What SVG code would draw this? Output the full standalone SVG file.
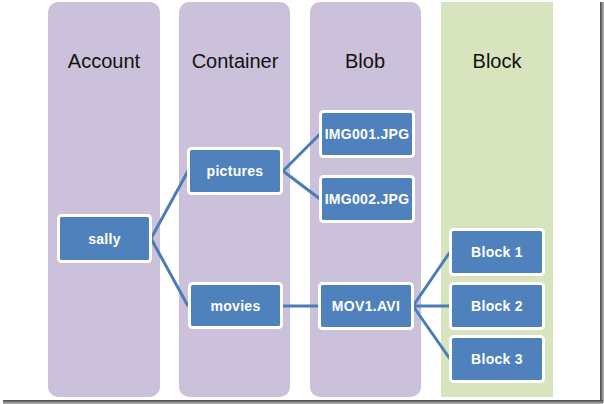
<svg xmlns="http://www.w3.org/2000/svg" width="604" height="404" viewBox="0 0 604 404">
<defs>
<style>
.col{fill:#CCC1DA}
.colg{fill:#D7E4BD}
.hdr{font-family:"Liberation Sans",Arial,sans-serif;font-size:20px;fill:#111;text-anchor:middle}
.node rect{fill:#4F81BD;stroke:#fff;stroke-width:3}
.node text{font-family:"Liberation Sans",Arial,sans-serif;font-size:14px;font-weight:bold;fill:#fff;text-anchor:middle;letter-spacing:0.3px}
.conn line{stroke:#4A7CB6;stroke-width:3;fill:none}
</style>
<linearGradient id="shR" x1="0" y1="0" x2="1" y2="0">
<stop offset="0" stop-color="#444"/><stop offset="1" stop-color="#bbb"/>
</linearGradient>
<linearGradient id="shB" x1="0" y1="0" x2="0" y2="1">
<stop offset="0" stop-color="#444"/><stop offset="1" stop-color="#bbb"/>
</linearGradient>
</defs>
<rect x="0" y="0" width="604" height="404" fill="#fff"/>
<rect x="600" y="2" width="4" height="401" fill="url(#shR)"/>
<rect x="3" y="400" width="600" height="4" fill="url(#shB)"/>

<g id="lanes">
<rect class="col" x="48" y="2" width="112" height="395" rx="10"/>
<rect class="col" x="179" y="2" width="111" height="395" rx="10"/>
<rect class="col" x="310" y="2" width="111" height="395" rx="10"/>
<rect class="colg" x="441" y="2" width="112" height="395"/>
<text class="hdr" x="104" y="68">Account</text>
<text class="hdr" x="235" y="68">Container</text>
<text class="hdr" x="365" y="68">Blob</text>
<text class="hdr" x="497" y="68">Block</text>
</g>

<g class="conn" id="connectors">
<line x1="151" y1="238.5" x2="188" y2="171"/>
<line x1="151" y1="238.5" x2="188" y2="306"/>
<line x1="283" y1="171" x2="320" y2="134"/>
<line x1="283" y1="171" x2="320" y2="199"/>
<line x1="283" y1="306" x2="319" y2="306"/>
<line x1="413" y1="306" x2="450" y2="252"/>
<line x1="413" y1="306" x2="450" y2="306"/>
<line x1="413" y1="306" x2="450" y2="359"/>
</g>

<g class="node" id="sally"><rect x="58.5" y="215.5" width="92" height="46" rx="3"/><text x="104.5" y="243.5">sally</text></g>
<g class="node" id="pictures"><rect x="188.5" y="148.5" width="93" height="45" rx="3"/><text x="235" y="176">pictures</text></g>
<g class="node" id="movies"><rect x="189.5" y="283.5" width="92" height="44" rx="3"/><text x="235.5" y="310.5">movies</text></g>
<g class="node" id="img001"><rect x="320.5" y="111.5" width="93" height="45" rx="3"/><text x="367" y="139">IMG001.JPG</text></g>
<g class="node" id="img002"><rect x="320.5" y="176.5" width="93" height="45" rx="3"/><text x="367" y="204">IMG002.JPG</text></g>
<g class="node" id="mov1"><rect x="319.5" y="283.5" width="93" height="45" rx="3"/><text x="366" y="311">MOV1.AVI</text></g>
<g class="node" id="block1"><rect x="450.5" y="229.5" width="93" height="45" rx="3"/><text x="497" y="257">Block  1</text></g>
<g class="node" id="block2"><rect x="450.5" y="283.5" width="93" height="45" rx="3"/><text x="497" y="311">Block  2</text></g>
<g class="node" id="block3"><rect x="450.5" y="336.5" width="93" height="45" rx="3"/><text x="497" y="364">Block  3</text></g>
</svg>
